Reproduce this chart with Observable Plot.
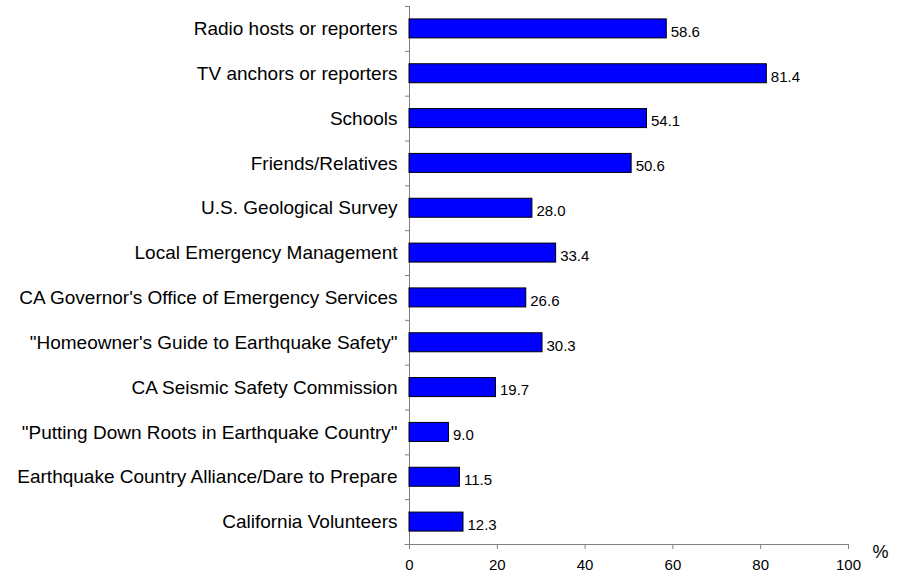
<!DOCTYPE html>
<html>
<head>
<meta charset="utf-8">
<script src="https://cdn.jsdelivr.net/npm/d3@7"></script>
<script src="https://cdn.jsdelivr.net/npm/@observablehq/plot@0.6"></script>
<style>
  html, body { margin: 0; padding: 0; background: #fff; }
  #chart svg { display: block; }
</style>
</head>
<body>
<div id="chart"></div>
<script>
const categories = [
  "Radio hosts or reporters",
  "TV anchors or reporters",
  "Schools",
  "Friends/Relatives",
  "U.S. Geological Survey",
  "Local Emergency Management",
  "CA Governor's Office of Emergency Services",
  "\"Homeowner's Guide to Earthquake Safety\"",
  "CA Seismic Safety Commission",
  "\"Putting Down Roots in Earthquake Country\"",
  "Earthquake Country Alliance/Dare to Prepare",
  "California Volunteers"
];
const values = [58.6, 81.4, 54.1, 50.6, 28.0, 33.4, 26.6, 30.3, 19.7, 9.0, 11.5, 12.3];
const xTicks = [0, 20, 40, 60, 80, 100];

const data = categories.map((c, i) => ({cat: c, value: values[i], i}));
const boundaries = d3.range(categories.length + 1).map(k => k - 0.5);
const half = 0.212;

const chart = Plot.plot({
  width: 897,
  height: 575,
  marginLeft: 409,
  marginRight: 49,
  marginTop: 6,
  marginBottom: 31,
  style: {fontFamily: "'Liberation Sans', Arial, sans-serif", background: "#fff", color: "#000"},
  x: {domain: [0, 100], label: null},
  y: {domain: [-0.5, categories.length - 0.5], reverse: true, label: null},
  marks: [
    // y axis line and between-category ticks
    Plot.ruleX([0], {y1: -0.5, y2: categories.length - 0.5, stroke: "#808080"}),
    Plot.axisY({ticks: boundaries, tickFormat: () => "", tickSize: 4, stroke: "#808080", strokeOpacity: 1, label: null}),
    // x axis line
    Plot.ruleY([categories.length - 0.5], {x1: -1, x2: 100, stroke: "#808080"}),
    Plot.axisX({ticks: xTicks, tickSize: 5, tickPadding: 10, fontSize: 15, stroke: "#808080", strokeOpacity: 1, label: null, fill: "#000"}),
    Plot.rect(data, {x1: 0, x2: "value", y1: d => d.i - half, y2: d => d.i + half, fill: "#0000FF", stroke: "#000", strokeWidth: 1}),
    Plot.text(data, {x: 0, y: "i", text: "cat", textAnchor: "end", dx: -12, fontSize: 19, fill: "#000"}),
    Plot.text(data, {x: "value", y: "i", text: d => d.value.toFixed(1), textAnchor: "start", dx: 4, dy: 3, fontSize: 15, fill: "#000"}),
    Plot.text(["%"], {x: 100, y: categories.length - 0.5, text: d => d, textAnchor: "start", dx: 24, dy: 8, fontSize: 18, fill: "#000"})
  ]
});
document.getElementById("chart").appendChild(chart);
</script>
</body>
</html>
